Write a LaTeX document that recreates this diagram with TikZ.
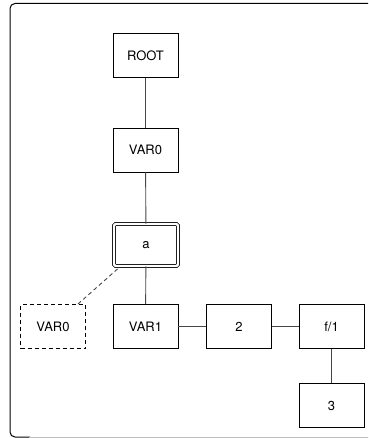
\documentclass[tikz,border=0pt]{standalone}
\usepackage{fontspec}
\setmainfont{TeX Gyre Heros}
\usetikzlibrary{positioning}
\definecolor{edgegray}{RGB}{70,70,70}
\definecolor{framegray}{RGB}{190,190,190}
\tikzset{
    termbox/.style={draw, line width=0.9pt, minimum width=65pt, minimum height=44pt,
        inner sep=0pt, font=\fontsize{13}{15}\selectfont},
    focusbox/.style={termbox, double, double distance=2.2pt, line width=0.8pt,
        minimum width=64pt, minimum height=42pt, rounded corners=1.5pt},
    ghostbox/.style={termbox, dashed, dash pattern=on 4pt off 3pt},
    link/.style={edgegray, line width=0.9pt}
}

\begin{document}
\begin{tikzpicture}[x=1pt, y=-1pt]
    \useasboundingbox (0,0) rectangle (368,438);
    \clip (0,0) rectangle (368,438);
    % outer frame
    \draw[line width=1pt, rounded corners=5pt] (380,3.5) -- (10,3.5) -- (10,437) -- (30,437);
    \draw[framegray, line width=1pt] (29,437) -- (380,437);

    \node[termbox] (root) at (145.5, 55.5) {ROOT};
    \node[termbox] (var0) at (145.5, 150) {VAR0};
    \node[focusbox] (a) at (146, 245) {a};
    \node[ghostbox] (ghost) at (53, 326.5) {VAR0};
    \node[termbox] (var1) at (145.5, 326.5) {VAR1};
    \node[termbox] (two) at (239, 326.5) {2};
    \node[termbox] (f) at (331.5, 326.5) {f/1};
    \node[termbox] (three) at (331.5, 405.5) {3};

    \draw[link] (root) -- (var0);
    \draw[link] (var0) -- (a);
    \draw[link] (a) -- (var1);
    \draw[link] (var1) -- (two);
    \draw[link] (two) -- (f);
    \draw[link] (f) -- (three);
    \draw[link, dashed, dash pattern=on 4pt off 3pt]
        ([xshift=4pt, yshift=-2.5pt]a.south west) -- ([xshift=-8pt]ghost.north east);
\end{tikzpicture}
\end{document}
